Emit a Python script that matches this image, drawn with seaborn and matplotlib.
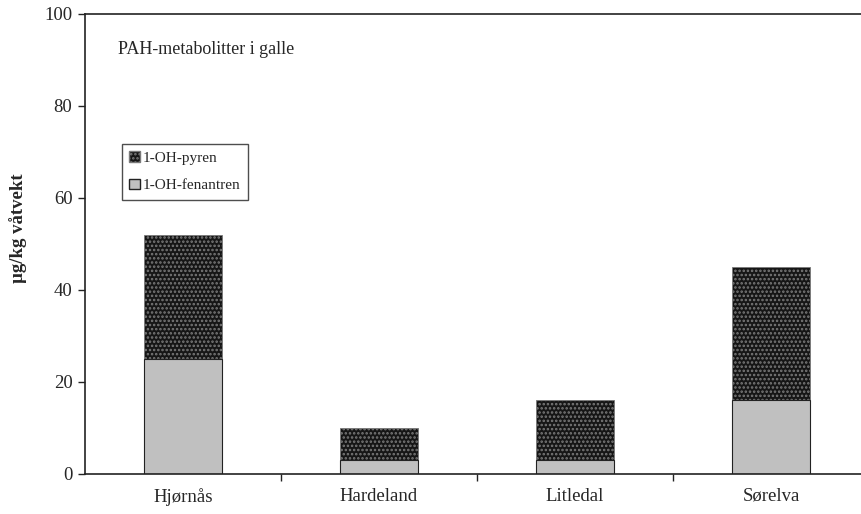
import pandas as pd
import matplotlib
matplotlib.use('Agg')
import matplotlib.pyplot as plt
import seaborn as sns
from matplotlib.patches import Patch

# Data
stations = ['Hjørnås', 'Hardeland', 'Litledal', 'Sørelva']
fenantren = [25, 3, 3, 16]
pyren = [27, 7, 13, 29]

df = pd.DataFrame({'Stasjon': stations, 'fenantren': fenantren, 'pyren': pyren})
df['total'] = df['fenantren'] + df['pyren']

sns.set_style('white')
plt.rcParams['font.family'] = ['Liberation Serif', 'DejaVu Serif']
plt.rcParams['hatch.linewidth'] = 1.2

fig = plt.figure(figsize=(8.62, 5.14), dpi=100)
ax = fig.add_axes([85 / 862, 40 / 514, 784 / 862, 460 / 514])

# stacked bars: total first (pyren part), then fenantren at the bottom
sns.barplot(data=df, x='Stasjon', y='total', color='#161616', width=0.4,
            saturation=1, ax=ax, edgecolor='#7a7a7a', linewidth=0.6)
for p in ax.patches:
    p.set_hatch('....')
sns.barplot(data=df, x='Stasjon', y='fenantren', color='#c0c0c0', width=0.4,
            saturation=1, ax=ax, edgecolor='#222222', linewidth=0.8)

ax.set_ylim(0, 100)
ax.set_xlim(-0.5, 3.5)
ax.set_yticks(range(0, 101, 20))
ax.set_xlabel('')
ax.set_ylabel('µg/kg våtvekt', fontsize=13.5, fontweight='bold')
ax.yaxis.set_label_coords((27 - 85) / 784, (474 - 228) / 460)
ax.tick_params(axis='y', direction='out', length=5, width=1, labelsize=13.5, left=True,
               color='#222222', pad=4)
ax.tick_params(axis='x', length=0, labelsize=13.5, pad=10)
ax.set_xticks([0.5, 1.5, 2.5], minor=True)
ax.tick_params(axis='x', which='minor', direction='out', length=5, width=1, bottom=True, color='#222222')

for side in ['left', 'bottom', 'top']:
    ax.spines[side].set_color('#222222')
    ax.spines[side].set_linewidth(1.2)
ax.spines['right'].set_visible(False)

ax.text((118 - 85) / 784, (474 - 50) / 460, 'PAH-metabolitter i galle', transform=ax.transAxes,
        fontsize=13, va='center', ha='left')

handles = [Patch(facecolor='#161616', edgecolor='#7a7a7a', hatch='....', label='1-OH-pyren'),
           Patch(facecolor='#c0c0c0', edgecolor='#222222', label='1-OH-fenantren')]
leg = ax.legend(handles=handles, loc='upper left',
                bbox_to_anchor=((122 - 85) / 784, (474 - 144) / 460),
                fontsize=11, frameon=True, fancybox=False, edgecolor='#222222',
                handlelength=0.7, handleheight=0.7, handletextpad=0.2,
                labelspacing=0.9, borderpad=0.47, borderaxespad=0)
leg.get_frame().set_linewidth(1.0)

plt.savefig('out.png', dpi=100)
